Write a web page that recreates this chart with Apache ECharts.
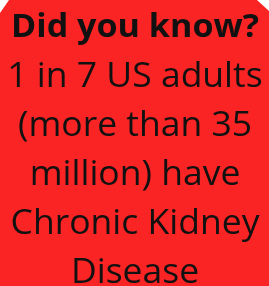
<!DOCTYPE html>
<html>
<head>
<meta charset="utf-8">
<script src="https://cdn.jsdelivr.net/npm/echarts@6/dist/echarts.min.js"></script>
<style>
  html, body { margin: 0; padding: 0; background: #fff; }
  #box { width: 269px; height: 286px; }
</style>
</head>
<body>
<div id="box"></div>
<script>
// text lines of the card
var headline = "Did you know?";
var lines = ["1 in 7 US adults", "(more than 35", "million) have", "Chronic Kidney", "Disease"];

var myChart = echarts.init(document.getElementById("box"));

var elements = [
  {
    type: "polygon",
    shape: { points: [[9, 0], [257, 0], [269, 11], [269, 286], [0, 286], [0, 13]] },
    style: { fill: "#fa2424" }
  },
  {
    type: "text",
    x: 135, y: 28,
    scaleX: 1.065,
    style: {
      text: headline, fill: "#111", font: "bold 32px 'Open Sans'",
      textAlign: "center", textVerticalAlign: "middle"
    }
  }
];
lines.forEach(function (t, i) {
  elements.push({
    type: "text",
    x: 135, y: 77 + i * 49,
    style: {
      text: t, fill: "#111", font: "35.5px 'Open Sans'",
      textAlign: "center", textVerticalAlign: "middle"
    }
  });
});

myChart.setOption({ graphic: { elements: elements } });
</script>
</body>
</html>
